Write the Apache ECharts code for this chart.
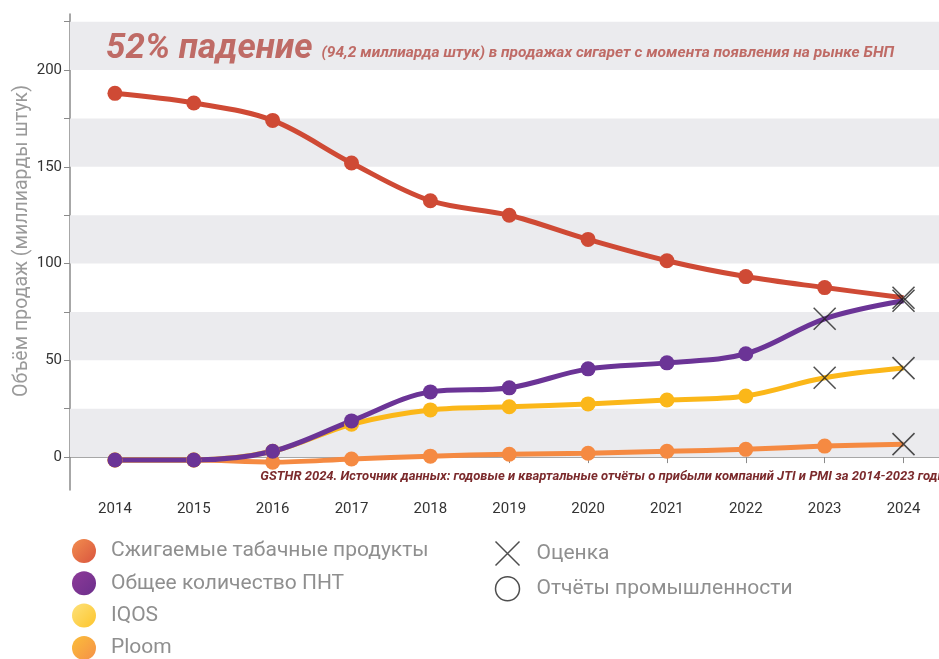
<!DOCTYPE html>
<html>
<head>
<meta charset="utf-8">
<script src="https://cdn.jsdelivr.net/npm/echarts@6/dist/echarts.min.js"></script>
<style>
  html, body { margin: 0; padding: 0; background: #fff; }
  #main { width: 939px; height: 659px; }
</style>
</head>
<body>
<div id="main"></div>
<script>
// данные
var years = [2014, 2015, 2016, 2017, 2018, 2019, 2020, 2021, 2022, 2023, 2024];
var combustible = [188, 183, 174, 152, 132.5, 125, 112.5, 101.5, 93.3, 87.6, 82.4];
var totalHtp = [-1.5, -1.5, 3, 18.7, 33.7, 35.8, 45.6, 48.7, 53.4, 71.5, 80.8];
var iqos = [-1.5, -1.5, 3, 17, 24.4, 26, 27.5, 29.5, 31.6, 41, 46];
var ploom = [-1.5, -1.5, -2.6, -1, 0.5, 1.5, 2, 3, 4, 5.7, 6.7];
// с какого индекса значения — оценка (крестик)
var combustibleEst = 10;
var totalHtpEst = 9;
var iqosEst = 9;
var ploomEst = 10;
var yTicks = [0, 25, 50, 75, 100, 125, 150, 175, 200, 225];
var yLabels = [0, 50, 100, 150, 200];
var bands = [[0, 25], [50, 75], [100, 125], [150, 175], [200, 225]];

var names = ['Сжигаемые табачные продукты', 'Общее количество ПНТ', 'IQOS', 'Ploom'];
var estName = 'Оценка';
var reportName = 'Отчёты промышленности';
var crossPath = 'path://M0,0L10,10M10,0L0,10';

function toPoints(values, est) {
  return values.map(function (v, i) {
    return i >= est ? { value: [years[i], v], symbol: 'none' } : { value: [years[i], v] };
  });
}

var estPoints = [];
[[combustible, combustibleEst], [totalHtp, totalHtpEst], [iqos, iqosEst], [ploom, ploomEst]].forEach(function (p) {
  for (var i = p[1]; i < years.length; i++) estPoints.push([years[i], p[0][i]]);
});

function lineSeries(name, values, est, color) {
  return {
    name: name,
    type: 'line',
    data: toPoints(values, est),
    smooth: 0.35,
    symbol: 'circle',
    symbolSize: 15,
    showAllSymbol: true,
    lineStyle: { width: 5, color: color },
    itemStyle: { color: color },
    emphasis: { disabled: true }
  };
}

function grad(c1, c2) {
  return { type: 'linear', x: 0, y: 0, x2: 1, y2: 1, colorStops: [{ offset: 0, color: c1 }, { offset: 1, color: c2 }] };
}

var redSeries = lineSeries(names[0], combustible, combustibleEst, '#cf4a35');
redSeries.markArea = {
  silent: true,
  itemStyle: { color: '#ebebee' },
  data: bands.map(function (b) { return [{ yAxis: b[0] }, { yAxis: b[1] }]; })
};

var option = {
  animation: false,
  textStyle: { fontFamily: 'Roboto' },
  title: {
    left: 101,
    top: 27,
    text: '{a|52% падение}  {b|(94,2 миллиарда штук) в продажах сигарет с момента появления на рынке БНП}',
    textStyle: {
      rich: {
        a: { fontSize: 35, fontWeight: 'bold', fontStyle: 'italic', color: '#bf6b66', fontFamily: 'Roboto' },
        b: { fontSize: 15.5, fontWeight: 'bold', fontStyle: 'italic', color: '#bf6b66', fontFamily: 'Roboto', padding: [8, 0, 0, 0] }
      }
    }
  },
  graphic: [{
    type: 'text',
    right: -9,
    top: 470,
    style: {
      text: 'GSTHR 2024. Источник данных: годовые и квартальные отчёты о прибыли компаний JTI и PMI за 2014-2023 годы',
      font: 'italic bold 13px Roboto',
      fill: '#7b2a2c'
    }
  }, {
    type: 'text',
    x: 22,
    y: 241,
    rotation: Math.PI / 2,
    style: {
      text: 'Объём продаж (миллиарды штук)',
      font: '19.5px Roboto',
      fill: '#9a9a9a',
      align: 'center',
      verticalAlign: 'middle'
    }
  }],
  grid: { left: 70, right: 0, top: 14, bottom: 169 },
  legend: [{
    orient: 'vertical',
    left: 67,
    top: 534,
    height: 200,
    itemWidth: 24,
    itemHeight: 24,
    itemGap: 8.3,
    icon: 'circle',
    textStyle: { fontSize: 21, color: '#8f8f8f', fontFamily: 'Roboto', padding: [0, 0, 0, 10] },
    data: [
      { name: names[0], itemStyle: { color: grad('#f28d4e', '#d9553f') } },
      { name: names[1], itemStyle: { color: grad('#8d3a98', '#6c2f8c') } },
      { name: names[2], itemStyle: { color: grad('#fde17a', '#fdc52c') } },
      { name: names[3], itemStyle: { color: grad('#fbbe3a', '#f59048') } }
    ],
    selectedMode: false
  }, {
    orient: 'vertical',
    left: 488,
    top: 534,
    itemWidth: 24,
    itemHeight: 24,
    itemGap: 8,
    textStyle: { fontSize: 21, color: '#8f8f8f', fontFamily: 'Roboto', padding: [0, 0, 0, 12] },
    data: [
      { name: estName, icon: crossPath, itemStyle: { color: 'none', borderColor: '#222', borderWidth: 1.5 } },
      { name: reportName, icon: 'circle', itemStyle: { color: '#fff', borderColor: '#222', borderWidth: 1.5 } }
    ],
    selectedMode: false
  }],
  xAxis: {
    type: 'value',
    min: 2013.43,
    max: 2024.45,
    axisLine: { show: true, lineStyle: { color: '#8a8a8a', width: 1.5 } },
    axisTick: { show: true, customValues: years, length: 6, lineStyle: { color: '#8a8a8a' } },
    axisLabel: { customValues: years, fontSize: 15, color: '#333', margin: 12, formatter: function (v) { return String(v); } },
    splitLine: { show: false }
  },
  yAxis: {
    type: 'value',
    min: -17,
    max: 229,
    axisLine: { show: true, lineStyle: { color: '#8a8a8a', width: 1.5 } },
    axisTick: { show: true, customValues: yTicks, length: 6, lineStyle: { color: '#8a8a8a' } },
    axisLabel: { customValues: yLabels, fontSize: 15, color: '#333', margin: 8 },
    splitLine: { show: false }
  },
  series: [
    redSeries,
    lineSeries(names[3], ploom, ploomEst, '#f58a42'),
    lineSeries(names[2], iqos, iqosEst, '#fbb719'),
    lineSeries(names[1], totalHtp, totalHtpEst, '#6b3496'),
    {
      name: estName,
      type: 'scatter',
      data: estPoints,
      symbol: crossPath,
      symbolSize: 22,
      itemStyle: { color: 'none', borderColor: '#222', borderWidth: 1.5 },
      emphasis: { disabled: true },
      z: 5
    },
    {
      name: reportName,
      type: 'scatter',
      data: [],
      symbol: 'circle',
      itemStyle: { color: '#fff', borderColor: '#222', borderWidth: 1.5 }
    }
  ]
};

var myChart = echarts.init(document.getElementById('main'));
myChart.setOption(option);
</script>
</body>
</html>
